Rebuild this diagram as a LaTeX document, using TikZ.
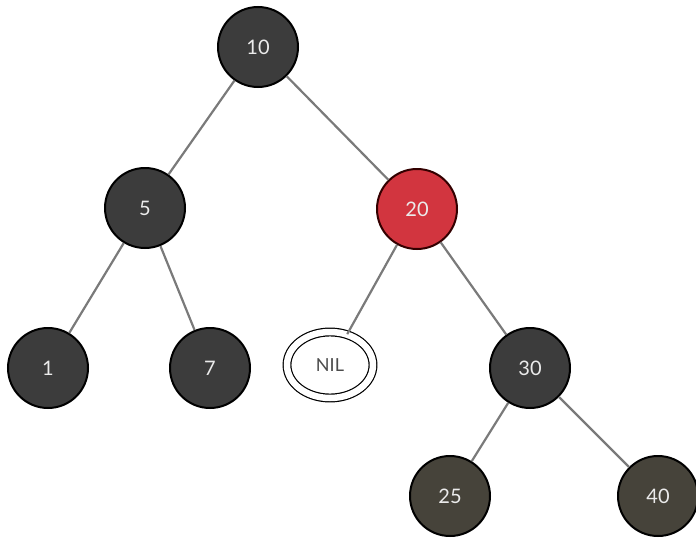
\documentclass[tikz,border=0pt]{standalone}
\usepackage{fontspec}
\setmainfont{Lato}
\usetikzlibrary{shapes.geometric}
\definecolor{nodegray}{HTML}{3C3C3C}
\definecolor{nodeolive}{HTML}{46433A}
\definecolor{rbred}{HTML}{D2353F}
\definecolor{edgegray}{HTML}{7A7A7A}
\begin{document}
\begin{tikzpicture}[x=1pt,y=-1pt,
  rbnode/.style={circle, draw=black, line width=2pt, fill=nodegray, minimum size=80pt, inner sep=0pt,
    text=white!92!black, font=\fontsize{20}{22}\selectfont},
  rednode/.style={rbnode, fill=rbred, draw=black!80!red},
  olivenode/.style={rbnode, fill=nodeolive},
  nilnode/.style={ellipse, draw=black, line width=1.2pt, double=white, double distance=6.5pt,
    minimum width=86pt, minimum height=66pt, inner sep=0pt, text=black!70, font=\fontsize{18}{20}\selectfont},
  edge/.style={draw=edgegray, line width=2.2pt}]
\useasboundingbox (0,0) rectangle (696,538);
\node[rbnode] (n10) at (258,47) {10};
\node[rbnode] (n5) at (145,208) {5};
\node[rednode] (n20) at (417,209) {20};
\node[rbnode] (n1) at (48,368) {1};
\node[rbnode] (n7) at (210,368) {7};
\node[nilnode] (nil) at (330,365) {NIL};
\node[rbnode] (n30) at (530,368) {30};
\node[olivenode] (n25) at (450,496) {25};
\node[olivenode] (n40) at (658,496) {40};
\draw[edge] (n10) -- (n5);
\draw[edge] (n10) -- (n20);
\draw[edge] (n5) -- (n1);
\draw[edge] (n5) -- (n7);
\draw[edge] (n20) -- (nil);
\draw[edge] (n20) -- (n30);
\draw[edge] (n30) -- (n25);
\draw[edge] (n30) -- (n40);
\end{tikzpicture}
\end{document}
